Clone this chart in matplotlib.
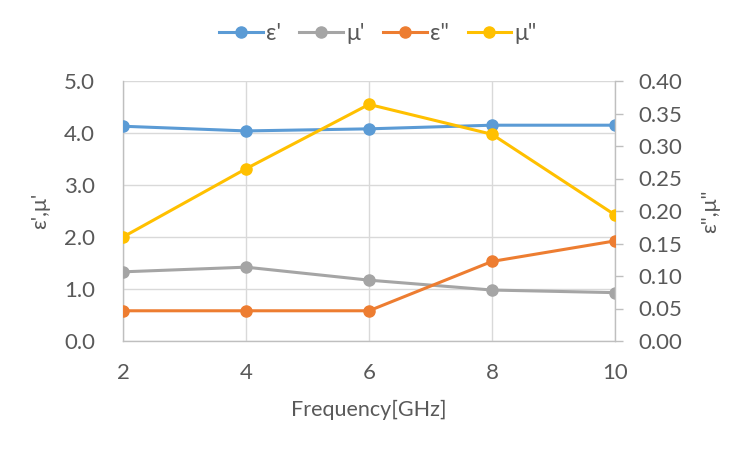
import matplotlib.pyplot as plt
from matplotlib.lines import Line2D

# data
freq = [2, 4, 6, 8, 10]
eps_real = [4.13, 4.04, 4.08, 4.15, 4.15]
mu_real = [1.33, 1.42, 1.17, 0.98, 0.93]
eps_imag = [0.0465, 0.0465, 0.0465, 0.1224, 0.154]
mu_imag = [0.160, 0.265, 0.364, 0.318, 0.194]

left_ticks = [0.0, 1.0, 2.0, 3.0, 4.0, 5.0]
right_ticks = [0.0, 0.05, 0.10, 0.15, 0.20, 0.25, 0.30, 0.35, 0.40]

BLUE = "#5B9BD5"
GRAY = "#A5A5A5"
ORANGE = "#ED7D31"
YELLOW = "#FFC000"
TXT = "#595959"
AXC = "#BFBFBF"
GRID = "#D9D9D9"

plt.rcParams['font.family'] = ['Lato', 'DejaVu Sans']
fs = 16

fig = plt.figure(figsize=(7.52, 4.51), dpi=100)
ax = fig.add_axes([123/752, 1 - 341/451, (615 - 123)/752, (341 - 81)/451])
ax2 = ax.twinx()

style = dict(lw=2.2, marker='o', markersize=8)
ax.plot(freq, eps_real, color=BLUE, zorder=3, **style)
ax.plot(freq, mu_real, color=GRAY, zorder=3, **style)
ax2.plot(freq, eps_imag, color=ORANGE, zorder=3, **style)
ax2.plot(freq, mu_imag, color=YELLOW, zorder=3, **style)

ax.set_xlim(2, 10)
ax.set_ylim(0, 5)
ax2.set_ylim(0, 0.40)
ax.set_xticks(freq)
ax.set_yticks(left_ticks)
ax.set_yticklabels(["%.1f" % v for v in left_ticks])
ax2.set_yticks(right_ticks)
ax2.set_yticklabels(["%.2f" % v for v in right_ticks])

ax.grid(True, color=GRID, lw=1)
ax.set_axisbelow(True)

for a in (ax, ax2):
    for s in a.spines.values():
        s.set_color(AXC)
        s.set_linewidth(1)
    a.spines['top'].set_visible(False)
ax.spines['right'].set_visible(False)
ax2.spines['left'].set_visible(False)
ax2.spines['bottom'].set_visible(False)

ax.tick_params(axis='x', length=0, pad=16, labelsize=fs, labelcolor=TXT)
ax.tick_params(axis='y', length=0, pad=20, labelsize=fs, labelcolor=TXT)
ax2.tick_params(axis='y', length=6, width=1, color=AXC, direction='out',
                pad=11, labelsize=fs, labelcolor=TXT)

ax.set_xlabel("Frequency[GHz]", fontsize=15.5, color=TXT, labelpad=12)
fig.text(40/752, 1 - 211/451, "ε',μ'", rotation=90, fontsize=15.5, color=TXT,
         ha='center', va='center')
fig.text(710/752, 1 - 211/451, 'ε",μ"', rotation=90, fontsize=15.5, color=TXT,
         ha='center', va='center')

handles = [Line2D([], [], color=c, **style) for c in (BLUE, GRAY, ORANGE, YELLOW)]
labels = ["ε'", "μ'", 'ε"', 'μ"']
fig.legend(handles, labels, loc='center', bbox_to_anchor=(378/752, 1 - 34/451),
           ncol=4, frameon=False, fontsize=16.5, labelcolor=TXT,
           handlelength=1.9, handletextpad=0.15, columnspacing=0.8)

fig.savefig("out.png", dpi=100)
